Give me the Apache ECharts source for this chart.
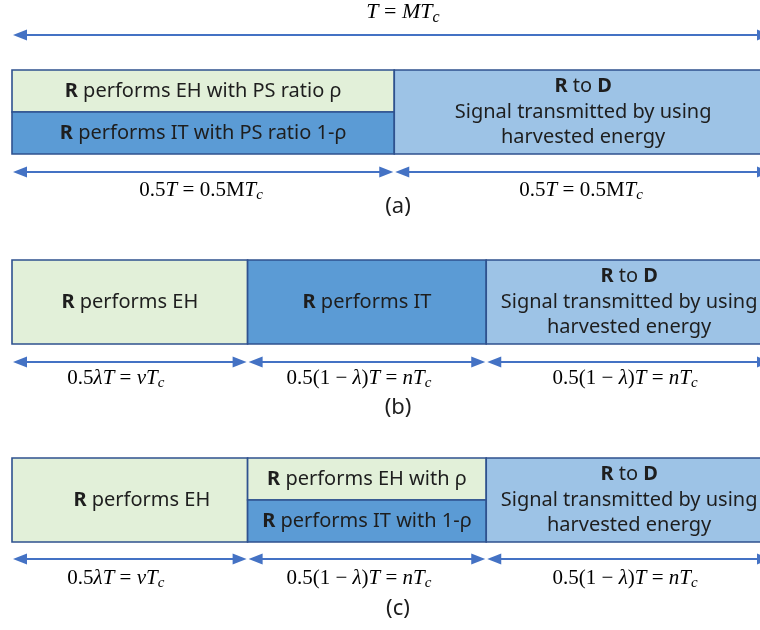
<!DOCTYPE html>
<html><head><meta charset="utf-8">
<script src="https://cdn.jsdelivr.net/npm/echarts@6/dist/echarts.min.js"></script>
<style>html,body{margin:0;padding:0;background:#fff}#c{width:760px;height:630px}</style>
</head><body><div id="c"></div>
<script>
// ---------------- data ----------------
const frameLabel = '{i|T} = {i|MT}{s|c}';
const captions = ['(a)', '(b)', '(c)'];
// segment boundaries as fractions of frame length T
const boundsA = [0, 0.503, 1];
const boundsB = [0, 0.31, 0.624, 1];
const boundsC = [0, 0.31, 0.624, 1];
const RD = '{b|R} to {b|D}\nSignal transmitted by using\nharvested energy';
// block texts per segment (two entries = split top/bottom)
const blocksA = [['{b|R} performs EH with PS ratio ρ', '{b|R} performs IT with PS ratio 1-ρ'], [RD]];
const blocksB = [['{b|R} performs EH'], ['{b|R} performs IT'], [RD]];
const blocksC = [['{b|R} performs EH'], ['{b|R} performs EH with ρ', '{b|R} performs IT with 1-ρ'], [RD]];
// block kinds: eh = energy harvesting, it = information transfer, rd = relay to destination
const kindsA = [['eh', 'it'], ['rd']];
const kindsB = [['eh'], ['it'], ['rd']];
const kindsC = [['eh'], ['eh', 'it'], ['rd']];
// duration labels per segment
const durA = ['{n|0.5}{i|T} = {n|0.5M}{i|T}{s|c}', '{n|0.5}{i|T} = {n|0.5M}{i|T}{s|c}'];
const durB = ['{n|0.5}{i|λT} = {i|vT}{s|c}', '{n|0.5(1 − }{i|λ}{n|)}{i|T} = {i|nT}{s|c}', '{n|0.5(1 − }{i|λ}{n|)}{i|T} = {i|nT}{s|c}'];
const durC = ['{n|0.5}{i|λT} = {i|vT}{s|c}', '{n|0.5(1 − }{i|λ}{n|)}{i|T} = {i|nT}{s|c}', '{n|0.5(1 − }{i|λ}{n|)}{i|T} = {i|nT}{s|c}'];

// ---------------- layout / style ----------------
const FILL = {eh: '#E2F0D9', it: '#5B9BD5', rd: '#9DC3E6'};
const BORDER = '#2F528F';
const ARROW = '#4472C4';
const SANS = '"Noto Sans", "Open Sans", sans-serif';
const SERIF = '"Liberation Serif", "DejaVu Serif", serif';
const TXT = '#1e1e1e';
const FS = 20;

const PANELS = [
  {bounds: boundsA, blocks: blocksA, kinds: kindsA, durs: durA, cap: captions[0], top: 70, bot: 154, arrow: 172, label: 190, capY: 207, ldx: [-2, -2], tdx: [0, 0]},
  {bounds: boundsB, blocks: blocksB, kinds: kindsB, durs: durB, cap: captions[1], top: 260, bot: 344, arrow: 362, label: 378, capY: 408, ldx: [-14, -8, -4], tdx: [0, 0, 0]},
  {bounds: boundsC, blocks: blocksC, kinds: kindsC, durs: durC, cap: captions[2], top: 458, bot: 542, arrow: 559, label: 578, capY: 609, ldx: [-14, -8, -4], tdx: [12, 0, 0]}
];

const boxData = [], boxMeta = [];
const arrowData = [[0, 1, 35]];
const textData = [], textMeta = [];
textData.push([0.5, 12.5]); textMeta.push({text: frameLabel, kind: 'title', dx: 11});

PANELS.forEach(p => {
  for (let s = 0; s < p.bounds.length - 1; s++) {
    const x0 = p.bounds[s], x1 = p.bounds[s + 1];
    const parts = p.blocks[s];
    const n = parts.length;
    const h = (p.bot - p.top) / n;
    parts.forEach((t, k) => {
      boxData.push([x0, x1, p.top + k * h, p.top + (k + 1) * h]);
      boxMeta.push({text: t, fill: FILL[p.kinds[s][k]], dx: n === 1 ? p.tdx[s] : 0});
    });
    arrowData.push([x0, x1, p.arrow]);
    textData.push([(x0 + x1) / 2, p.label]);
    textMeta.push({text: p.durs[s], kind: 'math', dx: p.ldx[s]});
  }
  textData.push([0.5, p.capY]);
  textMeta.push({text: p.cap, kind: 'cap', dx: 6});
});

const boxRich = {
  b: {fontFamily: SANS, fontSize: FS, fontWeight: 'bold', fill: TXT, lineHeight: 25.5}
};
function mathRich(fs) {
  return {
    n: {fontFamily: SERIF, fontSize: fs, fill: '#000', lineHeight: fs + 5},
    i: {fontFamily: SERIF, fontSize: fs, fontStyle: 'italic', fill: '#000', lineHeight: fs + 5},
    s: {fontFamily: SERIF, fontSize: Math.round(fs * 0.72), fontStyle: 'italic', fill: '#000', lineHeight: 16, verticalAlign: 'bottom'}
  };
}

function renderBox(params, api) {
  const m = boxMeta[params.dataIndex];
  const a = api.coord([api.value(0), api.value(2)]);
  const b = api.coord([api.value(1), api.value(3)]);
  return {
    type: 'rect',
    shape: {x: a[0], y: a[1], width: b[0] - a[0], height: b[1] - a[1]},
    style: {fill: m.fill, stroke: BORDER, lineWidth: 1.6},
    textContent: {
      type: 'text',
      style: {text: m.text, rich: boxRich, fontFamily: SANS, fontSize: FS, fill: TXT, lineHeight: 25.5, align: 'center'}
    },
    textConfig: {position: 'inside', offset: [m.dx, 0]}
  };
}

function renderArrow(params, api) {
  const a = api.coord([api.value(0), api.value(2)]);
  const b = api.coord([api.value(1), api.value(2)]);
  const x0 = a[0] + 1, x1 = b[0] - 1, y = a[1];
  const L = 14, H = 5.5;
  return {
    type: 'group',
    children: [
      {type: 'line', shape: {x1: x0 + L - 2, y1: y, x2: x1 - L + 2, y2: y}, style: {stroke: ARROW, lineWidth: 2}},
      {type: 'polygon', shape: {points: [[x0, y], [x0 + L, y - H], [x0 + L, y + H]]}, style: {fill: ARROW}},
      {type: 'polygon', shape: {points: [[x1, y], [x1 - L, y - H], [x1 - L, y + H]]}, style: {fill: ARROW}}
    ]
  };
}

function renderText(params, api) {
  const m = textMeta[params.dataIndex];
  const p = api.coord([api.value(0), api.value(1)]);
  let style;
  if (m.kind === 'cap') {
    style = {text: m.text, fontFamily: SANS, fontSize: 22, fill: TXT, align: 'center', verticalAlign: 'middle'};
  } else {
    const fs = m.kind === 'title' ? 22 : 21;
    style = {text: m.text, rich: mathRich(fs), fontFamily: SERIF, fontSize: fs, fill: '#000', align: 'center', verticalAlign: 'middle'};
  }
  return {type: 'text', x: p[0] + m.dx, y: p[1], style};
}

// x axis: unit = frame length T; frame starts 12px in and runs past the right edge
const chart = echarts.init(document.getElementById('c'), null, {renderer: 'canvas'});
chart.setOption({
  animation: false,
  backgroundColor: '#fff',
  grid: {left: 0, right: 0, top: 0, bottom: 0},
  xAxis: {type: 'value', min: -12 / 760, max: 748 / 760, show: false},
  yAxis: {type: 'value', min: 0, max: 630, inverse: true, show: false},
  series: [
    {type: 'custom', renderItem: renderBox, data: boxData, silent: true, clip: true},
    {type: 'custom', renderItem: renderArrow, data: arrowData, silent: true, clip: true},
    {type: 'custom', renderItem: renderText, data: textData, silent: true}
  ]
});
</script></body></html>
